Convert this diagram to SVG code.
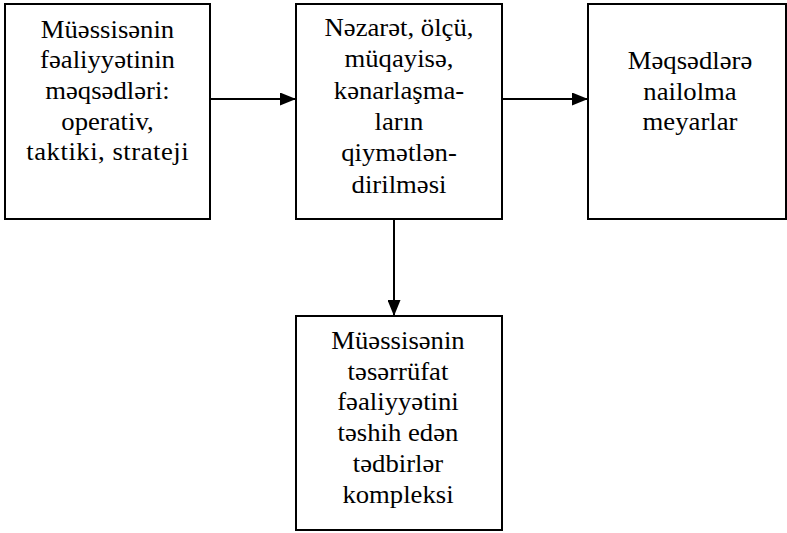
<svg xmlns="http://www.w3.org/2000/svg" width="787" height="533" viewBox="0 0 787 533">
<style>
.box{fill:#fff;stroke:#000;stroke-width:2}
.t{font-family:'Liberation Serif','Times New Roman',serif;font-size:24.5px;fill:#000;text-anchor:middle}
.c{stroke:#000;stroke-width:2;fill:none}
</style>
<defs>
<marker id="ah" markerUnits="userSpaceOnUse" markerWidth="16" markerHeight="13" refX="16" refY="6.5" orient="auto">
<path d="M0,0 L16,6.5 L0,13 Z" fill="#000"/>
</marker>
</defs>
<rect width="787" height="533" fill="#fff"/>
<g id="connectors">
<line class="c" x1="210" y1="99" x2="296" y2="99" marker-end="url(#ah)"/>
<line class="c" x1="502" y1="99" x2="588" y2="99" marker-end="url(#ah)"/>
<line class="c" x1="394" y1="219" x2="394" y2="316" marker-end="url(#ah)"/>
</g>
<g id="node1">
<rect class="box" x="5" y="4" width="205" height="215"/>
<g transform="translate(107.5,0) scale(1.09,1)">
<text class="t" x="0" y="38">Müəssisənin</text>
<text class="t" x="0" y="68.5">fəaliyyətinin</text>
<text class="t" x="0" y="99.5">məqsədləri:</text>
<text class="t" x="0" y="130">operativ,</text>
<text class="t" x="0" y="160.5" textLength="149" lengthAdjust="spacing">taktiki, strateji</text>
</g>
</g>
<g id="node2">
<rect class="box" x="296" y="4" width="206" height="215"/>
<g transform="translate(399,0) scale(1.09,1)">
<text class="t" x="0" y="36">Nəzarət, ölçü,</text>
<text class="t" x="0" y="67.3">müqayisə,</text>
<text class="t" x="0" y="98.6">kənarlaşma-</text>
<text class="t" x="0" y="130">ların</text>
<text class="t" x="0" y="161.5">qiymətlən-</text>
<text class="t" x="0" y="193">dirilməsi</text>
</g>
</g>
<g id="node3">
<rect class="box" x="588" y="4" width="198" height="215"/>
<g transform="translate(690,0) scale(1.09,1)">
<text class="t" x="0" y="69">Məqsədlərə</text>
<text class="t" x="0" y="100">nailolma</text>
<text class="t" x="0" y="130.5">meyarlar</text>
</g>
</g>
<g id="node4">
<rect class="box" x="296" y="316" width="206" height="214"/>
<g transform="translate(398,0) scale(1.09,1)">
<text class="t" x="0" y="349.5">Müəssisənin</text>
<text class="t" x="0" y="380">təsərrüfat</text>
<text class="t" x="0" y="410.5">fəaliyyətini</text>
<text class="t" x="0" y="441.5">təshih edən</text>
<text class="t" x="0" y="472.5">tədbirlər</text>
<text class="t" x="0" y="503.3">kompleksi</text>
</g>
</g>
</svg>
